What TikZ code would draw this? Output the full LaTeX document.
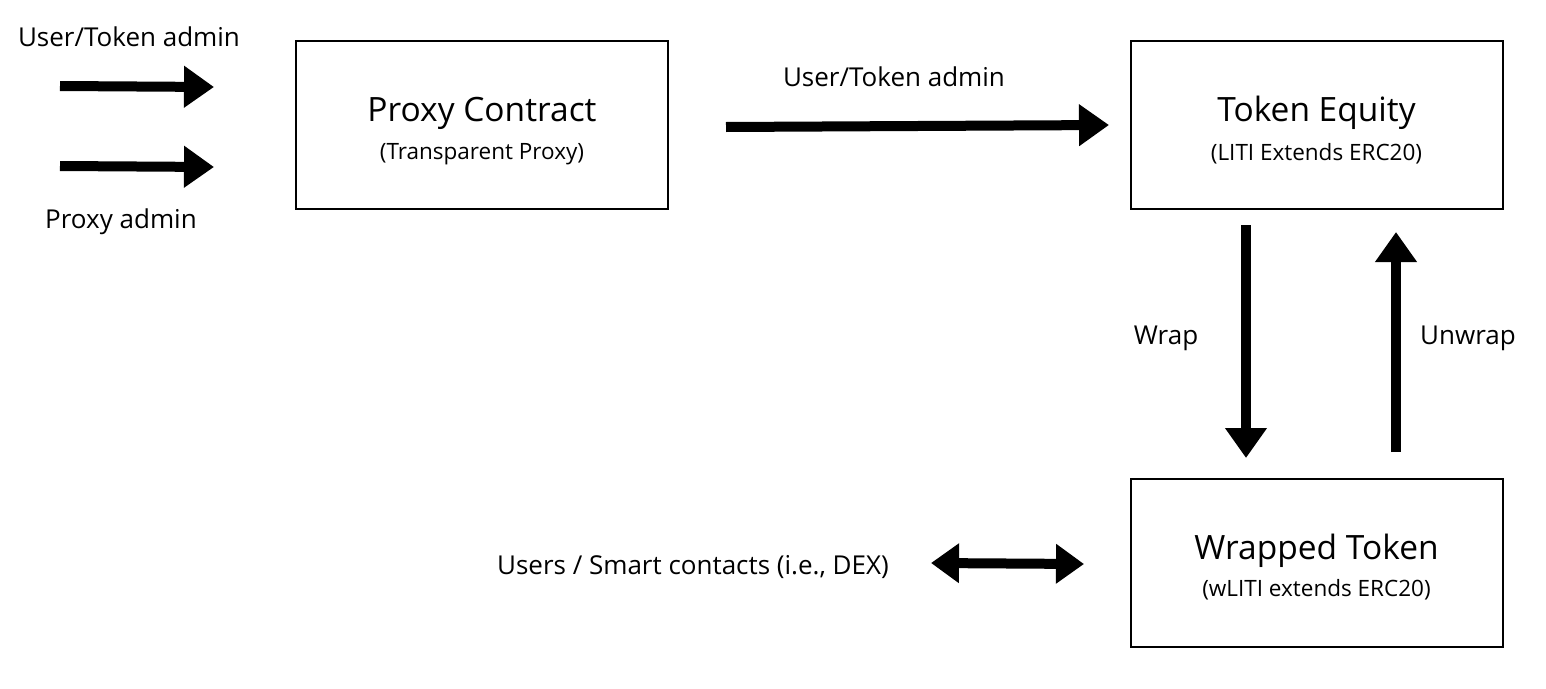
\documentclass[tikz,border=0pt]{standalone}
\usepackage{fontspec}
\setmainfont{Open Sans}
\usetikzlibrary{arrows.meta}
\begin{document}
\begin{tikzpicture}[x=1pt,y=-1pt,
  box/.style={draw,line width=2pt,minimum width=372pt,minimum height=168pt,inner sep=0pt},
  title/.style={font=\fontsize{33.5}{40}\selectfont,inner sep=0pt},
  sub/.style={font=\fontsize{22.5}{25}\selectfont,inner sep=0pt},
  lbl/.style={font=\fontsize{26}{31}\selectfont,inner sep=0pt},
  fat/.style={line width=10pt,-{Triangle[length=30pt,width=40pt]}},
  fatboth/.style={line width=10pt,{Triangle[length=28pt,width=38pt]}-{Triangle[length=28pt,width=38pt]}}]
\useasboundingbox (0,0) rectangle (1546,688);
\fill[white] (0,0) rectangle (1546,688);
% boxes
\node[box] (proxy) at (482,124.5) {};
\node[box] (equity) at (1316.5,124.5) {};
\node[box] (wrapped) at (1316.5,562.5) {};
\node[title] (proxyT) at (482,113) {Proxy Contract};
\node[sub] (proxyS) at (482,154) {(Transparent Proxy)};
\node[title] (equityT) at (1316.5,113) {Token Equity};
\node[sub] (equityS) at (1316.5,154) {(LITI Extends ERC20)};
\node[title] (wrappedT) at (1316.5,551) {Wrapped Token};
\node[sub] (wrappedS) at (1316.5,590) {(wLITI extends ERC20)};
% labels
\node[lbl] (lUser) at (129,37) {User/Token admin};
\node[lbl] (lProxy) at (121,222) {Proxy admin};
\node[lbl] (lTop) at (894,77) {User/Token admin};
\node[lbl] (lWrap) at (1166,338) {Wrap};
\node[lbl] (lUnwrap) at (1468,338) {Unwrap};
\node[lbl] (lUsers) at (693,567) {Users / Smart contacts (i.e., DEX)};
% arrow end points
\coordinate (a1s) at (60,86);   \coordinate (a1e) at (214,87);
\coordinate (a2s) at (60,166);  \coordinate (a2e) at (214,167);
\coordinate (a3s) at (726,127); \coordinate (a3e) at (1109,125);
\coordinate (a4s) at (1246,225); \coordinate (a4e) at (1246,458);
\coordinate (a5s) at (1396,452); \coordinate (a5e) at (1396,232);
\coordinate (a6s) at (931,563); \coordinate (a6e) at (1084,564);
\draw[fat] (a1s) -- (a1e);
\draw[fat] (a2s) -- (a2e);
\draw[fat] (a3s) -- (a3e);
\draw[fat] (a4s) -- (a4e);
\draw[fat] (a5s) -- (a5e);
\draw[fatboth] (a6s) -- (a6e);
\end{tikzpicture}
\end{document}
